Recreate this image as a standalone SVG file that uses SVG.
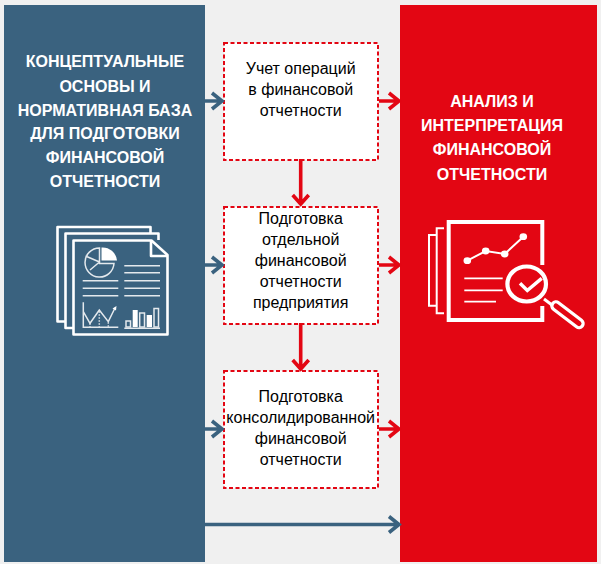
<svg xmlns="http://www.w3.org/2000/svg" width="601" height="564" viewBox="0 0 601 564">
<style>
.h{font:bold 16px "Liberation Sans",Arial,sans-serif;fill:#fff;text-anchor:middle}
.t{font:16px "Liberation Sans",Arial,sans-serif;fill:#000;text-anchor:middle}
.box{fill:#fff;stroke:#e30613;stroke-width:2;stroke-dasharray:4 2.5}
.ab{fill:none;stroke:#3a627f;stroke-width:3.6}
.ar{fill:none;stroke:#e30613;stroke-width:3.6}
.w{fill:none;stroke:#fff;stroke-width:2.6;stroke-linejoin:round}
.g{fill:none;stroke:#e4e9ed;stroke-width:1.5}
.d{fill:none;stroke:#aebdc9;stroke-width:1.5;stroke-dasharray:2 1}
.f{fill:#fff}
.r{fill:none;stroke:#fff;stroke-linecap:butt;stroke-linejoin:miter}
</style>
<rect x="0" y="0" width="601" height="564" fill="#f0f0f0"/>
<g id="left-panel">
<rect x="4" y="5" width="201" height="557" fill="#3a627f"/>
<text class="h" x="105" y="67">КОНЦЕПТУАЛЬНЫЕ</text>
<text class="h" x="105" y="92">ОСНОВЫ И</text>
<text class="h" x="105" y="116">НОРМАТИВНАЯ БАЗА</text>
<text class="h" x="105" y="139">ДЛЯ ПОДГОТОВКИ</text>
<text class="h" x="105" y="163">ФИНАНСОВОЙ</text>
<text class="h" x="105" y="187">ОТЧЕТНОСТИ</text>
<g id="docs-icon">
<path class="w" d="M65 321.5H57.5V227H150.5V233"/>
<path class="w" d="M73 328H65.5V233.5H158.5V240"/>
<path class="w" d="M73.5 334.5V240.5H151.5L167.5 255V334.5Z"/>
<path class="w" d="M151 241V256H167"/>
<path class="f" d="M101.5 247.5A14.5 14.5 0 0 1 117 260.5H101.5Z"/>
<path class="g" d="M99.5 248A14.5 14.5 0 1 0 114 263.5H99.5ZM99.5 262L85.500 256M99.500 262L90 270"/>
<path class="g" d="M124.300 265.700H160M124.300 272.700H160M124.300 280.700H160M124.300 288.300H160M124.300 295.700H160M82.700 280.700H118.300M82.700 288.300H118.300M82.700 295.700H118.300"/>
<path class="d" d="M90 323V327M99.300 311V327M108.300 322V327"/>
<path class="g" d="M83.300 302.300V327.300H118.300M83.300 311.700L90 323.300L99.300 310L108.300 321.700L115 308"/>
<path class="f" d="M112.500 308.500L116.500 306L116 310.500Z"/>
<path class="g" d="M124.300 328.300H160"/>
<path class="f" d="M132.700 310H137.700V327H132.700ZM146.700 315H152V327H146.700Z"/>
<path class="g" d="M126 321H130.500V327H126ZM139.700 313H144.500V327H139.700ZM154 308.500H158.500V327H154Z"/>
</g>
</g>
<g id="right-panel">
<rect x="400" y="5" width="197" height="557" fill="#e30613"/>
<text class="h" x="492" y="107">АНАЛИЗ И</text>
<text class="h" x="492" y="131">ИНТЕРПРЕТАЦИЯ</text>
<text class="h" x="492" y="155">ФИНАНСОВОЙ</text>
<text class="h" x="492" y="180">ОТЧЕТНОСТИ</text>
<g id="analysis-icon">
<path class="r" stroke-width="2" d="M444 228.300H436.700V313.300H444M436 235H429V305.700H436"/>
<path class="r" stroke-width="4" d="M542.300 265V222H448.700V320H542.300V306"/>
<path class="r" stroke-width="2" d="M467.300 260.700L485.700 251L504.700 254L523.300 236.700"/>
<ellipse class="f" cx="467.300" cy="260.700" rx="3.800" ry="3.400"/>
<ellipse class="f" cx="485.700" cy="251" rx="3.800" ry="3.400"/>
<ellipse class="f" cx="504.700" cy="254" rx="3.800" ry="3.400"/>
<ellipse class="f" cx="523.300" cy="236.700" rx="3.800" ry="3.400"/>
<path class="r" stroke-width="1.800" d="M464.300 278.300H502.700M464.300 290.300H502.700M464.300 301.700H496"/>
<ellipse cx="526.700" cy="284" rx="19.300" ry="17.500" fill="#e30613" stroke="#fff" stroke-width="4.200"/>
<path class="r" stroke-width="3.500" d="M520 283.300L527.300 290.500L541.700 278.300"/>
<path class="r" stroke-width="3" d="M544 299L552 305"/>
<path stroke="#fff" stroke-width="11.500" stroke-linecap="round" fill="none" d="M556 306L579 323.500"/>
<path stroke="#e30613" stroke-width="5" stroke-linecap="round" fill="none" d="M556 306L579 323.500"/>
</g>
</g>
<g id="node1"><rect class="box" x="224" y="43" width="154" height="117"/>
<text class="t" x="300.700" y="74">Учет операций</text><text class="t" x="300.700" y="95">в финансовой</text><text class="t" x="300.700" y="116">отчетности</text></g>
<g id="node2"><rect class="box" x="224" y="207" width="154" height="117"/>
<text class="t" x="300.700" y="224">Подготовка</text><text class="t" x="300.700" y="245">отдельной</text><text class="t" x="300.700" y="266">финансовой</text><text class="t" x="300.700" y="287">отчетности</text><text class="t" x="300.700" y="308">предприятия</text></g>
<g id="node3"><rect class="box" x="224" y="371" width="154" height="117"/>
<text class="t" x="300.700" y="402">Подготовка</text><text class="t" x="300.700" y="423">консолидированной</text><text class="t" x="300.700" y="444">финансовой</text><text class="t" x="300.700" y="465">отчетности</text></g>
<g id="connectors">
<path class="ab" d="M205 101H222M212 93L222 101L212 109"/>
<path class="ab" d="M205 265H222M212 257L222 265L212 273"/>
<path class="ab" d="M205 429H222M212 421L222 429L212 437"/>
<path class="ab" d="M205 524.500H399M389 516.500L399 524.500L389 532.500"/>
<path class="ar" d="M379 101H399M389 93L399 101L389 109"/>
<path class="ar" d="M379 265H399M389 257L399 265L389 273"/>
<path class="ar" d="M379 429H399M389 421L399 429L389 437"/>
<path class="ar" d="M300.700 159V204M292.700 195L300.700 204L308.700 195"/>
<path class="ar" d="M300.700 323V369M292.700 360L300.700 369L308.700 360"/>
</g>
</svg>
